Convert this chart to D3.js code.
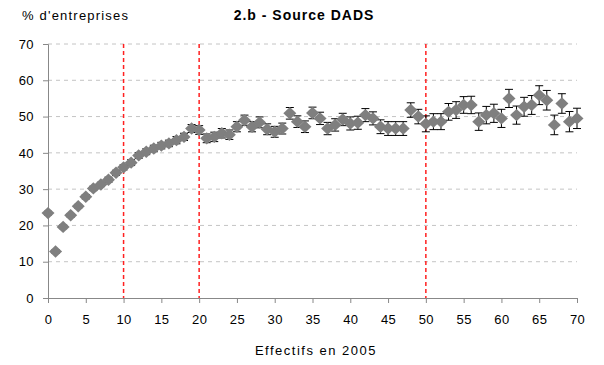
<!DOCTYPE html>
<html><head><meta charset="utf-8">
<script src="https://cdn.jsdelivr.net/npm/d3@7"></script>
<style>body{margin:0;background:#fff;}svg{display:block;font-family:"Liberation Sans",Arial,sans-serif;}</style>
</head><body>
<svg id="c" width="604" height="365"></svg>
<script>
const effectifs = d3.range(0, 71);
const pctEntreprises = [23.4,12.8,19.6,22.8,25.3,27.9,30.2,31.3,32.6,34.5,36,37.3,39.3,40.3,41.2,42,42.6,43.5,44.4,46.7,
  46.3,44,44.4,45.4,45,47.2,49,47.2,48.4,46.5,45.8,46.7,50.9,48.6,47.2,51,49.5,46.7,47.7,49.2,
  48.1,48.3,50.4,49.5,47.2,46.7,46.7,46.7,51.8,50,
  48,48.6,48.6,51.3,51.8,53.2,53.2,48.6,50.4,50.9,49.5,55,50.4,52.7,53.2,55.9,54.5,47.7,53.6,48.6,49.5];
const erreurs = [0.5,0.5,0.5,0.5,0.5,0.6,0.6,0.6,0.7,0.7,0.7,0.8,0.8,0.8,0.9,0.9,0.9,1,1,1.1,
  1.2,1.2,1.3,1.3,1.3,1.4,1.4,1.4,1.5,1.5,1.5,1.5,1.6,1.6,1.6,1.6,1.7,1.7,1.7,1.7,
  1.8,1.8,1.8,1.8,1.9,1.9,1.9,1.9,2,2,
  2.2,2.2,2.2,2.3,2.3,2.3,2.4,2.4,2.4,2.5,2.5,2.5,2.5,2.6,2.6,2.6,2.7,2.7,2.7,2.8,2.8];
const seuils = [10, 20, 50];
const xTicks = d3.range(0, 71, 5);
const yTicks = d3.range(0, 71, 10);
const titre = "2.b - Source DADS";
const yTitre = "% d'entreprises";
const xTitre = "Effectifs en 2005";

const svg = d3.select("#c");
const x = d3.scaleLinear().domain([0, 70]).range([48, 577]);
const y = d3.scaleLinear().domain([0, 70]).range([298, 44]);

// gridlines
svg.append("g").selectAll("line").data(yTicks.filter(d => d > 0)).join("line")
  .attr("x1", x(0)).attr("x2", x(70)).attr("y1", d => y(d)).attr("y2", d => y(d))
  .attr("stroke", "#c4c4c4").attr("stroke-width", 1).attr("stroke-dasharray", "4,4");

// axes
const yAxis = svg.append("g").attr("transform", `translate(${x(0)},0)`)
  .call(d3.axisLeft(y).tickValues(yTicks).tickSize(5).tickPadding(9));
const xAxis = svg.append("g").attr("transform", `translate(0,${y(0)})`)
  .call(d3.axisBottom(x).tickValues(xTicks).tickSize(5).tickPadding(12));
[yAxis, xAxis].forEach(a => {
  a.select(".domain").attr("stroke", "#888");
  a.selectAll(".tick line").attr("stroke", "#888");
  a.selectAll(".tick text").attr("fill", "#000").style("font-size", "13px")
    .style("letter-spacing", "0.4px").style("font-family", "Liberation Sans, Arial, sans-serif");
});

// red threshold lines
svg.append("g").selectAll("line").data(seuils).join("line")
  .attr("x1", d => x(d)).attr("x2", d => x(d)).attr("y1", y(70)).attr("y2", y(0))
  .attr("stroke", "#ff2020").attr("stroke-width", 1.5).attr("stroke-dasharray", "4,3");

const data = effectifs.map((e, i) => ({e, v: pctEntreprises[i], err: erreurs[i]}));

// error bars
const eb = svg.append("g").attr("stroke", "#000").attr("stroke-width", 1);
data.forEach(d => {
  eb.append("line").attr("x1", x(d.e)).attr("x2", x(d.e)).attr("y1", y(d.v + d.err)).attr("y2", y(d.v - d.err));
  [d.v + d.err, d.v - d.err].forEach(t => eb.append("line")
    .attr("x1", x(d.e) - 4).attr("x2", x(d.e) + 4).attr("y1", y(t)).attr("y2", y(t)));
});

// diamonds
const hw = 6.5, hh = 6.2;
svg.append("g").selectAll("path").data(data).join("path")
  .attr("d", `M0,${-hh}L${hw},0L0,${hh}L${-hw},0Z`)
  .attr("transform", d => `translate(${x(d.e)},${y(d.v)})`)
  .attr("fill", "#7f7f7f");

// texts
svg.append("text").attr("x", 22).attr("y", 20).attr("font-size", 13).style("letter-spacing", "1.2px").text(yTitre);
svg.append("text").attr("x", 304).attr("y", 20).attr("font-size", 14).attr("font-weight", "bold")
  .style("letter-spacing", "1px").attr("text-anchor", "middle").text(titre);
svg.append("text").attr("x", 316).attr("y", 355).attr("font-size", 13).style("letter-spacing", "1.5px")
  .attr("text-anchor", "middle").text(xTitre);
</script>
</body></html>
